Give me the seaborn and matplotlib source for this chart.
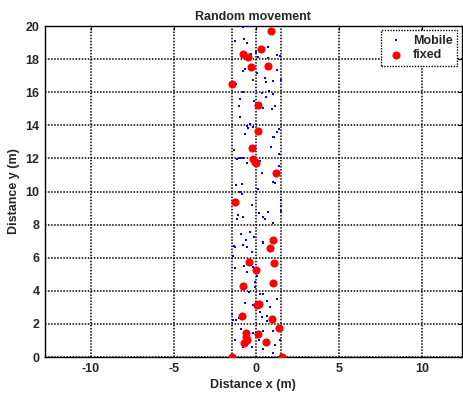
import matplotlib
matplotlib.use("Agg")
import matplotlib.pyplot as plt
import seaborn as sns
import pandas as pd

# ---- data (metres) ----
mobile_x = [-0.84, -0.43, -1.30, -0.76, -0.59, 0.71, -0.05, -0.35, 1.22, 1.42, 0.71, 0.11,
            -0.69, -0.80, 1.22, 0.01, -0.19, 1.46, 0.51, 0.57, 0.98, -1.24, -0.84, 0.31,
            0.78, 1.02, 0.57, -1.00, -0.15, -1.04, 0.37, 1.12, 0.92, -1.00, -0.39, -0.59,
            -0.49, -0.19, 1.38, 1.26, -0.69, 1.02,
            1.06, 1.22, -1.36, 0.86, 1.38, -1.20, -1.00, -0.80, -0.59, 0.21, 1.38, 0.31,
            -1.24, -0.90, 0.98, 1.12, 0.11, -1.00, -0.90, 1.46, -0.29, 1.46, 1.46, 0.71,
            0.17, -1.10, -1.16, -0.80, 0.41, 0.51, 1.02, -0.96, -0.39, -0.15, -0.63, 0.37,
            -0.80, -1.30, -0.55,
            -1.36, -0.84, -0.29, 0.41, -1.40, -1.30, -0.76, -0.19, -0.55, 0.01, -0.09,
            -0.09, -0.43, 0.21, 0.37, 1.22, -0.69, -0.19, 0.61, 0.81, 0.21, -1.50, -1.40,
            -1.24, -1.04, 0.31, 0.61, 0.65, -0.96, -0.19, 0.37, 1.02, 1.42, -1.30, -0.84,
            -0.80, -0.29, 0.17, 1.12, 1.02, -1.40, 0.41]
mobile_y = [19.95, 20.00, 19.11, 19.19, 18.95, 18.75, 18.45, 18.29, 18.25, 18.19, 18.05, 18.15,
            17.38, 17.30, 17.34, 17.14, 16.74, 16.74, 16.84, 16.64, 16.68, 16.48, 16.03, 15.93,
            16.09, 15.89, 15.69, 15.57, 15.47, 15.17, 15.03, 15.17, 14.97, 14.52, 14.08, 13.96,
            13.82, 13.88, 13.76, 13.62, 13.47, 13.31,
            13.27, 13.62, 12.51, 12.67, 12.27, 11.94, 12.00, 12.00, 11.70, 11.86, 11.54, 11.14,
            10.39, 10.45, 10.59, 10.53, 10.13, 9.99, 9.85, 9.49, 9.18, 9.13, 8.84, 8.78,
            8.68, 8.58, 8.32, 8.44, 8.44, 8.32, 8.12, 7.43, 7.53, 7.27, 7.07, 6.97,
            6.77, 6.63, 6.67,
            6.71, 6.77, 6.36, 6.91, 6.10, 5.36, 5.50, 5.46, 5.16, 4.89, 4.55,
            4.25, 3.95, 3.81, 3.81, 3.48, 3.24, 3.14, 3.40, 3.00, 2.74, 2.60, 2.24,
            2.24, 2.34, 2.40, 2.48, 2.18, 1.67, 1.43, 1.59, 1.59, 1.03, 1.03, 0.62,
            0.58, 0.58, 1.03, 0.73, 0.22, 0.12, 0.46]

fixed_x = [0.88, 0.27, -0.83, -0.50, -0.33, 0.68, -1.50, 0.11, 0.07, -0.25, -0.09, -0.18,
           0.00, 1.18, -1.30, 1.00, 0.82, -0.43, 1.06, -0.03, -0.80, 1.00, 0.17, 0.05,
           -0.90, 0.92, 1.38, -0.63, -0.60, -0.62, 0.11, 0.57, -0.75, -1.50, 1.52]
fixed_y = [19.70, 18.60, 18.30, 18.10, 17.50, 17.60, 16.50, 15.20, 13.65, 12.60, 11.80, 11.95,
           11.70, 11.10, 9.35, 7.07, 6.60, 5.76, 5.66, 5.26, 4.29, 4.49, 3.20, 3.15,
           2.48, 2.28, 1.73, 1.23, 1.03, 1.45, 1.39, 0.92, 0.85, 0.00, 0.00]

corridor_x = [-1.5, 1.5]
x_ticks = [-10, -5, 0, 5, 10]
y_ticks = list(range(0, 21, 2))

df = pd.DataFrame({
    "x": mobile_x + fixed_x,
    "y": mobile_y + fixed_y,
    "kind": ["Mobile"] * len(mobile_x) + ["fixed"] * len(fixed_x),
})

sns.set_style("white")
plt.rcParams["font.family"] = ["Liberation Sans", "DejaVu Sans"]
plt.rcParams["font.weight"] = "bold"
plt.rcParams["axes.unicode_minus"] = False

FS = 9
dots = (0, (1, 1))

fig = plt.figure(figsize=(4.63, 3.94), dpi=100)
ax = fig.add_axes([0.0972, 0.0939, 0.8998, 0.8401])

sns.scatterplot(data=df[df.kind == "Mobile"], x="x", y="y", ax=ax, color="#0000ff",
                marker="s", s=4, linewidth=0, label="Mobile", zorder=3)
sns.scatterplot(data=df[df.kind == "fixed"], x="x", y="y", ax=ax, color="#ff0000",
                marker="o", s=34, linewidth=0, label="fixed", zorder=4)

for cx in corridor_x:
    ax.axvline(cx, ymin=0, ymax=1, color="black", linestyle=dots, linewidth=1.1, zorder=2)

ax.set_xlim(-12.78, 12.4)
ax.set_ylim(0, 20)
ax.set_xticks(x_ticks)
ax.set_yticks(y_ticks)
ax.grid(True, color="black", linestyle=dots, linewidth=1.1)
ax.set_axisbelow(True)
ax.tick_params(direction="in", length=3, labelsize=FS, width=0.8, color="black",
               top=True, right=True, pad=4)
for lab in ax.get_xticklabels() + ax.get_yticklabels():
    lab.set_fontweight("bold")
for sp in ax.spines.values():
    sp.set_color("black")
    sp.set_linewidth(1.0)
    sp.set_linestyle(dots)

ax.set_title("Random movement", fontsize=FS, fontweight="bold", pad=4)
ax.set_xlabel("Distance x (m)", fontsize=FS, fontweight="bold", labelpad=3)
ax.set_ylabel("Distance y (m)", fontsize=FS, fontweight="bold", labelpad=4)

leg = ax.legend(loc="upper right", fontsize=FS, frameon=True, fancybox=False,
                borderaxespad=0.35, handletextpad=0.6, handlelength=1.6,
                borderpad=0.35, labelspacing=0.2)
leg.get_frame().set_edgecolor("black")
leg.get_frame().set_linewidth(1.0)
leg.get_frame().set_linestyle(dots)
leg.get_frame().set_alpha(1.0)
for t in leg.get_texts():
    t.set_fontweight("bold")

fig.savefig("out.png", dpi=100)
